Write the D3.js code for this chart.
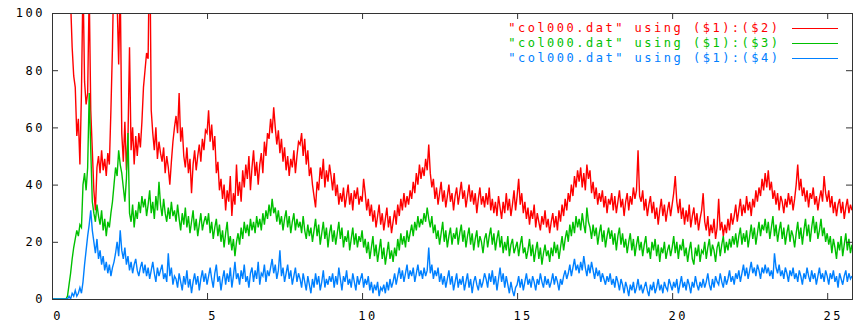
<!DOCTYPE html>
<html>
<head>
<meta charset="utf-8">
<script src="https://cdn.jsdelivr.net/npm/d3@7"></script>
<style>
body { margin: 0; background: #fff; }
text { font-family: "DejaVu Sans Mono", monospace; font-size: 12px; letter-spacing: 2.5px; }
</style>
</head>
<body>
<svg id="chart"></svg>
<script>
// samples every 0.05 on x, from 0 to 25.8 (one row = one unit of x)
const tStep = 0.05;

const col2 = [
  null,null,null,null,null,null,null,null,null,null, 150,118,104,88,78,74,57,63,47,72,
  112,76,68,72,108,66,52,38,31,46, 50,44,52,45,49,43,51,47,66,88,
  120,112,104,82,110,58,48,62,45,56, 88,52,60,47,57,50,58,53,62,74,
  80,86,84,130,66,58,52,60,49,55, 51,48,53,44,50,46,40,48,55,60,
  64,58,72,55,60,50,46,53,44,49, 37,47,52,45,50,54,48,56,52,59,
  58,66,55,61,52,57,44,48,38,42, 35,40,31,38,34,43,29,37,33,47,
  36,41,34,45,39,47,42,50,38,46, 52,43,48,40,47,51,44,55,50,58,
  56,63,58,67,60,54,59,51,56,48, 53,45,50,43,49,46,52,44,50,55,
  54,58,50,56,47,52,43,46,40,36, 32,41,38,46,42,49,39,45,41,47,
  43,38,44,36,40,33,37,34,39,32, 36,40,33,37,31,38,35,39,33,36,
  34,42,37,31,35,29,33,27,31,25, 29,33,26,30,24,28,32,25,29,23,
  27,31,26,33,29,35,31,37,32,36, 33,38,35,41,37,44,40,47,42,46,
  43,49,45,54,44,39,42,35,39,33, 37,41,34,38,32,36,40,34,37,31,
  36,39,33,37,41,35,38,32,36,40, 34,38,33,37,30,35,39,33,36,32,
  37,33,39,31,35,30,34,29,36,32, 28,34,30,37,31,35,29,33,38,31,
  36,42,33,37,30,34,28,32,26,31, 28,33,25,30,27,24,29,26,31,25,
  28,23,27,30,25,29,24,31,27,33, 29,35,31,37,34,40,36,43,39,45,
  41,46,39,44,38,47,42,45,37,41, 35,39,33,37,34,38,32,36,30,35,
  33,37,31,36,30,34,38,32,35,29, 34,37,31,36,33,39,35,38,52,36,
  34,38,31,35,29,33,36,30,34,28, 32,26,31,35,29,33,27,31,34,29,
  33,37,43,34,30,35,28,32,26,31, 27,33,25,29,32,26,30,24,28,31,
  37,27,24,29,22,26,23,28,21,25, 35,24,27,22,26,23,28,24,30,26,
  29,33,27,31,35,29,33,30,36,31, 34,29,35,32,38,34,39,36,42,38,
  44,39,45,38,41,35,38,33,37,31, 36,34,30,35,32,37,33,36,31,35,
  40,47,38,42,36,39,34,38,32,37, 35,39,33,36,31,35,38,34,43,37,
  34,38,32,36,30,34,29,33,35,30, 34,28,32,35,30,33,31
];

const col3 = [
  0,0,0,0,0,0,0,0,0,0, 1,5,9,14,18,21,24,22,26,25,
  40,44,38,46,72,52,34,30,27,33, 29,26,31,24,28,22,27,25,30,34,
  40,46,43,52,47,44,39,34,42,58, 30,27,33,25,31,28,34,30,36,32,
  35,29,33,38,30,34,28,36,31,41, 33,29,35,30,27,32,28,34,29,31,
  27,33,28,24,30,26,32,25,29,23, 27,31,24,28,22,26,30,24,27,29,
  26,30,23,27,21,25,28,22,26,20, 24,18,23,27,19,22,17,21,15,20,
  23,19,25,21,27,23,26,22,28,24, 27,23,29,25,28,24,30,26,31,28,
  33,29,35,30,32,27,31,26,29,24, 28,31,25,29,23,27,30,24,28,25,
  27,23,29,24,21,26,22,25,20,24, 28,22,26,19,23,27,21,25,18,23,
  26,20,24,19,23,27,21,25,18,22, 20,24,17,21,25,19,23,18,22,20,
  24,18,21,16,20,14,18,22,15,19, 13,17,21,14,18,12,16,20,14,17,
  13,18,15,21,17,23,19,22,18,24, 20,23,26,22,27,24,29,25,28,26,
  30,27,32,28,25,29,23,26,21,24, 19,23,27,20,24,18,22,25,19,23,
  21,25,19,23,26,20,24,18,22,25, 19,23,17,21,24,18,22,20,16,21,
  23,18,22,25,19,23,17,21,24,18, 22,16,20,17,22,15,19,21,16,18,
  20,15,19,22,16,18,14,17,21,15, 19,13,17,20,14,18,12,16,19,15,
  17,13,18,15,20,16,19,14,18,22, 17,21,24,20,26,22,27,23,29,25,
  28,24,30,26,23,32,27,25,21,26, 22,25,19,23,26,20,24,18,22,25,
  21,24,19,23,17,22,25,19,23,18, 21,16,20,23,17,21,15,19,22,17,
  20,15,19,22,16,18,14,20,17,21, 15,19,13,18,16,20,14,17,19,15,
  18,22,16,20,14,19,17,21,15,18, 13,17,20,14,12,18,15,19,13,17,
  16,20,14,18,21,15,19,17,13,18, 20,15,19,22,16,20,17,21,18,22,
  19,23,18,22,25,19,23,20,24,18, 22,26,21,25,19,23,27,22,26,24,
  28,23,27,21,25,29,22,26,20,24, 27,21,25,19,23,26,20,24,22,18,
  23,27,21,25,19,24,28,22,26,20, 25,29,23,27,21,24,28,22,25,20,
  23,19,22,16,21,18,14,20,17,22, 15,19,23,17,21,16,19
];

const col4 = [
  0,0,0,0,0,0,0,0,0,0, 0,1,0,2,1,3,1,2,4,2,
  6,12,17,22,26,31,24,20,16,21, 14,17,12,15,10,13,9,12,8,11,
  13,16,20,15,24,17,14,18,12,15, 10,13,9,12,14,10,8,11,13,9,
  12,8,11,7,10,13,9,6,11,8, 10,12,7,9,6,16,8,11,5,8,
  7,4,9,6,3,8,5,10,4,7, 2,6,9,5,8,3,7,10,6,9,
  5,8,11,7,4,9,12,6,8,3, 7,10,5,9,6,11,4,8,13,7,
  9,5,10,7,12,6,8,4,9,11, 6,10,7,13,5,9,8,12,6,10,
  8,11,14,9,12,7,10,17,8,11, 6,9,12,7,10,5,8,11,6,9,
  7,4,9,6,3,8,5,2,7,4, 9,5,8,3,6,10,4,7,5,8,
  6,9,4,8,5,11,7,3,8,6, 10,5,7,4,9,6,3,8,5,7,
  9,4,7,5,8,3,6,2,5,3, 6,1,4,3,5,2,6,3,7,4,
  6,9,5,8,11,7,10,6,9,12, 7,10,8,11,6,9,12,8,10,7,
  11,8,10,18,9,12,7,10,8,11, 6,9,5,8,4,7,10,5,8,3,
  6,9,4,7,5,8,3,6,9,4, 7,2,6,8,5,3,7,4,6,9,
  7,4,9,6,10,5,8,3,7,11, 6,9,4,8,5,2,6,3,1,4,
  5,8,4,7,3,6,9,5,7,4, 8,6,3,7,5,9,6,4,8,5,
  7,4,6,9,5,8,6,3,7,5, 8,10,7,9,12,8,11,14,10,12,
  9,13,10,15,11,8,12,9,13,10, 7,11,8,10,6,9,7,5,8,6,
  9,5,7,4,8,6,3,7,5,2, 6,4,1,5,3,6,2,4,7,3,
  5,2,4,6,3,1,5,3,6,2, 4,7,3,5,2,6,4,3,7,5,
  3,6,4,7,2,5,8,4,6,3, 7,5,2,6,4,8,5,3,6,4,
  7,4,6,9,5,3,7,4,8,6, 5,9,6,4,8,5,7,10,6,8,
  5,9,7,10,6,9,12,8,11,7, 10,13,9,11,8,12,10,7,11,9,
  12,9,11,8,10,7,16,11,9,12, 8,10,7,11,9,6,10,8,11,7,
  9,6,10,8,5,9,7,11,8,6, 10,7,9,5,8,11,7,9,6,10,
  8,5,9,7,10,6,8,4,9,7, 5,8,10,6,9,7,8
];

const xTicks = [0, 5, 10, 15, 20, 25];
const yTicks = [0, 20, 40, 60, 80, 100];
const labels = ['"col000.dat" using ($1):($2)', '"col000.dat" using ($1):($3)', '"col000.dat" using ($1):($4)'];
const colors = ['#ff0000', '#00c000', '#0080ff'];

const width = 858, height = 326;
const margin = {top: 13, right: 6, bottom: 27, left: 52};

const svg = d3.select('#chart').attr('width', width).attr('height', height);

const x = d3.scaleLinear().domain([0, 25.8]).range([margin.left, width - margin.right]);
const y = d3.scaleLinear().domain([0, 100]).range([height - margin.bottom, margin.top]);

svg.append('clipPath').attr('id', 'plot')
  .append('rect')
  .attr('x', margin.left).attr('y', margin.top)
  .attr('width', width - margin.left - margin.right)
  .attr('height', height - margin.top - margin.bottom);

const line = d3.line()
  .defined(d => d != null)
  .x((d, i) => x(i * tStep))
  .y(d => y(d));

const series = [col2, col3, col4];
svg.append('g').attr('clip-path', 'url(#plot)')
  .selectAll('path')
  .data(series)
  .enter()
  .append('path')
  .attr('d', line)
  .attr('fill', 'none')
  .attr('stroke', (d, i) => colors[i])
  .attr('stroke-width', 1.4);

// axes, ticks drawn inwards like gnuplot
const axisColor = '#333';
function style(g) {
  g.select('.domain').remove();
  g.selectAll('line').attr('stroke', axisColor);
  g.selectAll('text').attr('fill', '#000').style('font-family', '"DejaVu Sans Mono", monospace').style('font-size', '12px');
}

svg.append('g')
  .attr('transform', 'translate(0,' + (height - margin.bottom) + ')')
  .call(d3.axisBottom(x).tickValues(xTicks).tickSize(-6).tickPadding(12))
  .call(style)
  .selectAll('text').attr('dx', '5.5px');

svg.append('g')
  .attr('transform', 'translate(0,' + margin.top + ')')
  .call(d3.axisTop(x).tickValues(xTicks).tickSize(-6).tickFormat(''))
  .call(style);

svg.append('g')
  .attr('transform', 'translate(' + margin.left + ',0)')
  .call(d3.axisLeft(y).tickValues(yTicks).tickSize(-6).tickPadding(7))
  .call(style);

svg.append('g')
  .attr('transform', 'translate(' + (width - margin.right) + ',0)')
  .call(d3.axisRight(y).tickValues(yTicks).tickSize(-6).tickFormat(''))
  .call(style);

svg.append('rect')
  .attr('x', margin.left + 0.5).attr('y', margin.top + 0.5)
  .attr('width', width - margin.left - margin.right)
  .attr('height', height - margin.top - margin.bottom)
  .attr('fill', 'none')
  .attr('stroke', axisColor);

// key
const key = svg.append('g').selectAll('g')
  .data(labels)
  .enter()
  .append('g')
  .attr('transform', (d, i) => 'translate(0,' + (28 + i * 15) + ')');

key.append('text')
  .attr('x', 780.5)
  .attr('dy', '0.35em')
  .attr('text-anchor', 'end')
  .attr('fill', (d, i) => colors[i])
  .text(d => d);

key.append('line')
  .attr('x1', 792).attr('x2', 838)
  .attr('y1', 0.5).attr('y2', 0.5)
  .attr('stroke', (d, i) => colors[i]);
</script>
</body>
</html>
